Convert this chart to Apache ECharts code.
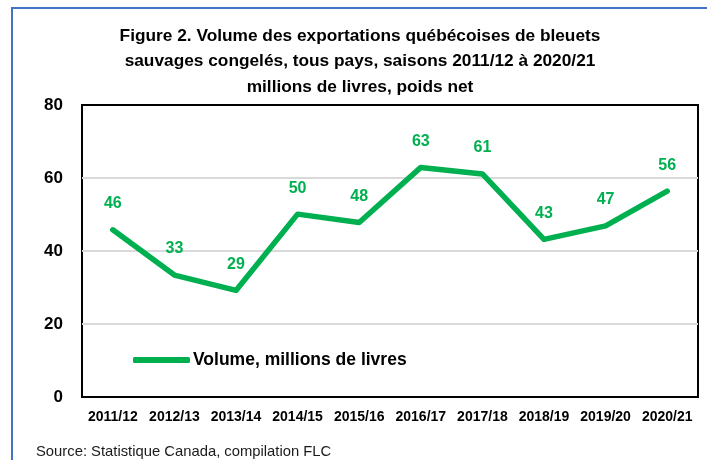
<!DOCTYPE html>
<html><head><meta charset="utf-8">
<script src="https://cdn.jsdelivr.net/npm/echarts@6/dist/echarts.min.js"></script>
<style>html,body{margin:0;padding:0;background:#fff}#c{width:707px;height:460px}</style>
</head><body><div id="c"></div>
<script>
const categories = ['2011/12','2012/13','2013/14','2014/15','2015/16','2016/17','2017/18','2018/19','2019/20','2020/21'];
const volume = [45.8, 33.4, 29.2, 50.1, 47.8, 62.9, 61.1, 43.2, 46.9, 56.4];
const seriesName = 'Volume, millions de livres';
const yTicks = [0, 20, 40, 60, 80];
const titleText = 'Figure 2. Volume des exportations québécoises de bleuets\nsauvages congelés, tous pays, saisons 2011/12 à 2020/21\nmillions de livres, poids net';
const sourceText = 'Source: Statistique Canada, compilation FLC';

const FONT = "'Liberation Sans', Arial, sans-serif";
const chart = echarts.init(document.getElementById('c'));
chart.setOption({
  animation: false,
  backgroundColor: '#fff',
  textStyle: { fontFamily: FONT },
  title: {
    text: titleText,
    left: 360, top: 23, textAlign: 'center', padding: 0,
    textStyle: { fontFamily: FONT, fontWeight: 'bold', fontSize: 17.3, lineHeight: 25.5, color: '#000' }
  },
  legend: {
    left: 133, top: 351, padding: 0,
    icon: 'roundRect',
    itemWidth: 57, itemHeight: 6, itemGap: 3,
    data: [seriesName],
    textStyle: { fontFamily: FONT, fontWeight: 'bold', fontSize: 17.5, color: '#000', padding: [0,0,0,-2] }
  },
  grid: {
    left: 82, right: 9, top: 105, bottom: 63,
    show: true, borderColor: '#000', borderWidth: 2, backgroundColor: 'transparent'
  },
  xAxis: {
    type: 'category', data: categories, boundaryGap: true,
    axisLine: { show: false }, axisTick: { show: false },
    axisLabel: { margin: 13, fontFamily: FONT, fontWeight: 'bold', fontSize: 14, color: '#000', interval: 0 }
  },
  yAxis: {
    type: 'value', min: yTicks[0], max: yTicks[yTicks.length-1], interval: 20,
    axisLine: { show: false }, axisTick: { show: false },
    axisLabel: { margin: 19, fontFamily: FONT, fontWeight: 'bold', fontSize: 17, color: '#000' },
    splitLine: { lineStyle: { color: ['#000', '#D9D9D9', '#D9D9D9', '#D9D9D9', '#000'], width: 2 } }
  },
  series: [{
    name: seriesName, type: 'line', data: volume,
    symbol: 'circle', symbolSize: 2, showSymbol: true, smooth: false,
    lineStyle: { color: '#00B050', width: 5.5, cap: 'round', join: 'round' },
    itemStyle: { color: '#00B050' },
    label: {
      show: true, position: 'top', distance: 17,
      formatter: p => Math.round(p.value),
      fontFamily: FONT, fontWeight: 'bold', fontSize: 16, color: '#00B050'
    }
  }],
  graphic: [
    { type: 'polyline', shape: { points: [[12, 470], [12, 8], [720, 8]] }, style: { stroke: '#4472C4', lineWidth: 2, fill: null } },
    { type: 'text', left: 36, top: 444, style: { text: sourceText, font: "14.8px " + FONT, fill: '#1a1a1a' } }
  ]
});
</script></body></html>
